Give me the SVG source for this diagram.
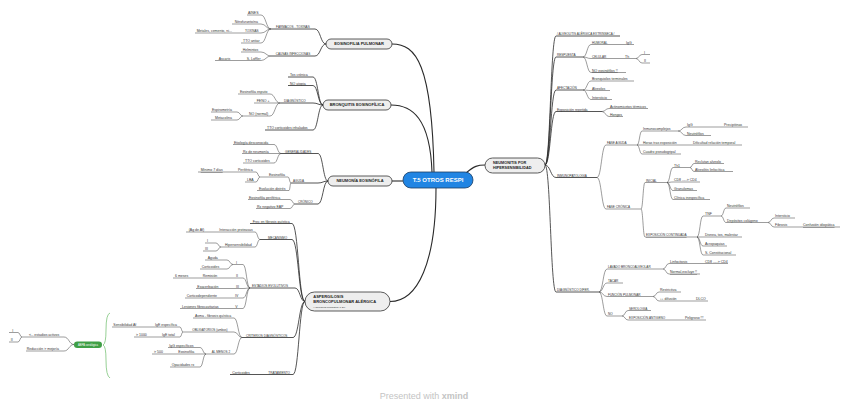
<svg xmlns="http://www.w3.org/2000/svg" width="848" height="411" viewBox="0 0 848 411">
<style>
.l{fill:none;stroke:#3a3a3a;stroke-width:.5}
.l1{fill:none;stroke:#2a2a2a;stroke-width:.8}
.l0{fill:none;stroke:#2a2a2a;stroke-width:1.1}
text{font-family:"Liberation Sans",Arial,sans-serif;fill:#333}
.t{font-size:3.5px}
.c{font-size:3.1px}
.u{text-decoration:underline}
.m{font-size:4px;font-weight:bold;fill:#222}
.box{fill:#eeeeee;stroke:#333;stroke-width:.8}
</style>
<rect width="848" height="411" fill="#ffffff"/>
<g id="connectors">
<!-- central -->
<path class="l0" d="M392 44C416 44 432 64 434 172"/>
<path class="l0" d="M391 105C412 105 430 118 432 172"/>
<path class="l0" d="M392 181H403"/>
<path class="l0" d="M390 301.5C418 301.5 436 262 436 188"/>
<path class="l0" d="M466 173C474 166 478 165 485 165"/>
<!-- neumonitis -->
<path class="l1" d="M545 165C550.5 165 550.5 36 556 36H620"/>
<path class="l1" d="M545 165C550.5 165 550.5 57 556 57H583"/>
<path class="l1" d="M545 165C550.5 165 550.5 90 556 90H583"/>
<path class="l1" d="M545 165C550.5 165 550.5 111.5 556 111.5H602"/>
<path class="l1" d="M545 165C550.5 165 550.5 177.5 556 177.5H597"/>
<path class="l1" d="M545 165C550.5 165 550.5 292 556 292H599"/>
<path class="l" d="M583 57C587 57 587 44.5 591 44.5H634"/>
<path class="l" d="M583 57C587 57 587 58.5 591 58.5H636"/>
<path class="l" d="M583 57C587 57 587 72.5 591 72.5H626"/>
<path class="l" d="M636 58.5C639 58.5 639 54.5 642 54.5H650"/>
<path class="l" d="M636 58.5C639 58.5 639 63 642 63H650"/>
<path class="l" d="M583 90C587 90 587 81 591 81H634"/>
<path class="l" d="M583 90C587 90 587 90.5 591 90.5H610"/>
<path class="l" d="M583 90C587 90 587 99.5 591 99.5H612"/>
<path class="l" d="M602 111.5C605.5 111.5 605.5 108.5 609 108.5H648"/>
<path class="l" d="M602 111.5C605.5 111.5 605.5 116.5 609 116.5H623"/>
<path class="l" d="M597 177.5C601.5 177.5 601.5 145 606 145H637"/>
<path class="l" d="M597 177.5C601.5 177.5 601.5 209 606 209H641"/>
<path class="l" d="M637 145C639.5 145 639.5 131 642 131H678"/>
<path class="l" d="M637 145H742"/>
<path class="l" d="M637 145C639.5 145 639.5 154 642 154H681"/>
<path class="l" d="M678 131C682 131 682 127 686 127H748"/>
<path class="l" d="M678 131C682 131 682 135.5 686 135.5H711"/>
<path class="l" d="M641 209C643 209 643 182.5 645 182.5H667"/>
<path class="l" d="M641 209C643 209 643 237 645 237H697"/>
<path class="l" d="M667 182.5C670 182.5 670 167.5 673 167.5H690"/>
<path class="l" d="M667 182.5C670 182.5 670 182 673 182H700"/>
<path class="l" d="M667 182.5C670 182.5 670 190.5 673 190.5H697"/>
<path class="l" d="M667 182.5C670 182.5 670 199.5 673 199.5H710"/>
<path class="l" d="M690 167.5C692 167.5 692 163.5 694 163.5H724"/>
<path class="l" d="M690 167.5C692 167.5 692 171.5 694 171.5H733"/>
<path class="l" d="M697 237C700 237 700 216 703 216H721"/>
<path class="l" d="M697 237H742"/>
<path class="l" d="M697 237C700 237 700 246 703 246H727"/>
<path class="l" d="M697 237C700 237 700 255 703 255H736"/>
<path class="l" d="M721 216C723.5 216 723.5 208 726 208H750"/>
<path class="l" d="M721 216C723.5 216 723.5 222.5 726 222.5H768"/>
<path class="l" d="M768 222.5C771 222.5 771 218 774 218H795"/>
<path class="l" d="M768 222.5C771 222.5 771 227 774 227H840"/>
<path class="l" d="M599 292C603 292 603 269 607 269H663"/>
<path class="l" d="M599 292C603 292 603 283 607 283H623"/>
<path class="l" d="M599 292C603 292 603 296.5 607 296.5H653"/>
<path class="l" d="M599 292C603 292 603 316 607 316H622"/>
<path class="l" d="M663 269C666 269 666 263.5 669 263.5H728"/>
<path class="l" d="M663 269C666 269 666 274 669 274H700"/>
<path class="l" d="M653 296.5C656 296.5 656 292 659 292H681"/>
<path class="l" d="M653 296.5C656 296.5 656 301 659 301H708"/>
<path class="l" d="M622 316C625 316 625 310.5 628 310.5H651"/>
<path class="l" d="M622 316C625 316 625 320 628 320H706"/>
<!-- eosinofilia pulmonar -->
<path class="l1" d="M326 44C320.5 44 320.5 29 315 29H271"/>
<path class="l1" d="M326 44C320.5 44 320.5 56 315 56H271"/>
<path class="l" d="M271 29C266 29 266 15 261 15H247"/>
<path class="l" d="M271 29C266 29 266 24 261 24H232"/>
<path class="l" d="M271 29C266 29 266 33 261 33H195"/>
<path class="l" d="M271 29C266 29 266 43 261 43H241"/>
<path class="l" d="M271 56C266 56 266 52 261 52H241"/>
<path class="l" d="M271 56C266 56 266 60.5 261 60.5H215"/>
<!-- bronquitis -->
<path class="l1" d="M323 105C318 105 318 77 313 77H288"/>
<path class="l1" d="M323 105C318 105 318 85.5 313 85.5H288"/>
<path class="l1" d="M323 105C318 105 318 103 313 103H280"/>
<path class="l1" d="M323 105C318 105 318 130 313 130H265"/>
<path class="l" d="M280 103C275 103 275 94 270 94H238"/>
<path class="l" d="M280 103H254"/>
<path class="l" d="M280 103C275 103 275 116 270 116H243"/>
<path class="l" d="M243 116C240 116 240 112 237 112H211"/>
<path class="l" d="M243 116C240 116 240 120 237 120H211"/>
<!-- neumonia eosinofila -->
<path class="l1" d="M328 181C323 181 323 153.5 318 153.5H281"/>
<path class="l1" d="M328 181C323 181 323 183 318 183H291"/>
<path class="l1" d="M328 181C323 181 323 204 318 204H295"/>
<path class="l" d="M281 153.5C277.5 153.5 277.5 144.5 274 144.5H233"/>
<path class="l" d="M281 153.5H242"/>
<path class="l" d="M281 153.5C277.5 153.5 277.5 163 274 163H243"/>
<path class="l" d="M291 183C289.5 183 289.5 177 288 177H260"/>
<path class="l" d="M291 183C290 183 290 190.5 289 190.5H257"/>
<path class="l" d="M260 177C258 177 258 172 256 172H198"/>
<path class="l" d="M260 177C258 177 258 182 256 182H245"/>
<path class="l" d="M295 204C292.5 204 292.5 199.5 290 199.5H248"/>
<path class="l" d="M295 204C292.5 204 292.5 208.5 290 208.5H256"/>
<!-- aspergilosis -->
<path class="l1" d="M305 301.5C298.5 301.5 298.5 223.5 292 223.5H250"/>
<path class="l1" d="M305 301.5C298.5 301.5 298.5 239.5 292 239.5H260"/>
<path class="l1" d="M305 301.5C300 301.5 300 288 295 288H250"/>
<path class="l1" d="M305 301.5C299 301.5 299 337.5 293 337.5H242"/>
<path class="l1" d="M305 301.5C299 301.5 299 374.5 293 374.5H230"/>
<path class="l" d="M260 239.5C257.5 239.5 257.5 232 255 232H186"/>
<path class="l" d="M260 239.5C257.5 239.5 257.5 247 255 247H221"/>
<path class="l" d="M221 247C218.5 247 218.5 243 216 243H205"/>
<path class="l" d="M221 247C218.5 247 218.5 251 216 251H203"/>
<path class="l" d="M250 288C246.5 288 246.5 264.5 243 264.5H233"/>
<path class="l" d="M250 288C246.5 288 246.5 278 243 278H173"/>
<path class="l" d="M250 288C246.5 288 246.5 288.5 243 288.5H196"/>
<path class="l" d="M250 288C246.5 288 246.5 298 243 298H185"/>
<path class="l" d="M250 288C246.5 288 246.5 308.5 243 308.5H180"/>
<path class="l" d="M233 264.5C230 264.5 230 260 227 260H205"/>
<path class="l" d="M233 264.5C230 264.5 230 269 227 269H200"/>
<path class="l" d="M242 337.5C238 337.5 238 318 234 318H193"/>
<path class="l" d="M242 337.5C238 337.5 238 332 234 332H183"/>
<path class="l" d="M242 337.5C238 337.5 238 354 234 354H206"/>
<path class="l" d="M183 332C181.5 332 181.5 327 180 327H112"/>
<path class="l" d="M183 332C181.5 332 181.5 337 180 337H134"/>
<path class="l" d="M206 354C203 354 203 347.5 200 347.5H168"/>
<path class="l" d="M206 354H152"/>
<path class="l" d="M206 354C203 354 203 367 200 367H170"/>
<!-- summary -->
<path fill="none" stroke="#7cc47a" stroke-width=".8" d="M110 313Q106 314 106 330Q106 344 103 345Q106 346 106 360Q106 376 110 378"/>
<path class="l" d="M74 344.5C69 344.5 69 337 64 337H22"/>
<path class="l" d="M74 344.5C69 344.5 69 351 64 351H26"/>
<path class="l" d="M22 337C20 337 20 332.5 18 332.5H9"/>
<path class="l" d="M22 337C20 337 20 342 18 342H9"/>
</g>

<g id="central"><rect x="403" y="172" width="70" height="16" rx="8" fill="#2185e3" stroke="#1d3d63" stroke-width=".8"/><text x="438" y="182.2" text-anchor="middle" style="font-size:6px;font-weight:bold;fill:#fff">T.5 OTROS RESPI</text></g>
<g id="neumonitis"><rect class="box" x="485" y="158" width="60" height="15" rx="7.5"/><text class="m" x="493" y="164.3" style="font-size:3.8px">NEUMONITIS POR</text><text class="m" x="493" y="169.3" style="font-size:3.8px">HIPERSENSIBILIDAD</text></g>
<g id="eosinofilia-pulmonar"><rect class="box" x="326" y="39" width="66" height="10" rx="5"/><text class="m" x="359" y="45.4" text-anchor="middle">EOSINOFILIA PULMONAR</text></g>
<g id="bronquitis"><rect class="box" x="323" y="100" width="68" height="10" rx="5"/><text class="m" x="357" y="106.4" text-anchor="middle">BRONQUITIS EOSINOFÍLICA</text></g>
<g id="neumonia-eos"><rect class="box" x="328" y="176" width="64" height="10" rx="5"/><text class="m" x="360" y="182.4" text-anchor="middle">NEUMONÍA EOSINÓFILA</text></g>
<g id="aspergilosis"><rect class="box" x="305" y="292" width="85" height="19" rx="9.5"/><text class="m" x="313.3" y="298">ASPERGILOSIS</text><text class="m" x="313.3" y="303.4">BRONCOPULMONAR ALÉRGICA</text><text x="313.3" y="307.6" style="font-size:2.5px">(Aspergillus fumigatus) 1-2%</text></g>
<g id="abpa-serologica"><rect x="74" y="341.5" width="28" height="6.5" rx="3.2" fill="#3f9f46"/><text x="88" y="345.9" text-anchor="middle" style="font-size:2.7px;fill:#fff">ABPA serológica</text></g>

<!-- right side labels -->
<g id="r1"><text class="c" x="557" y="35">/ ALVEOLITIS ALÉRGICA EXTRÍNSECA /</text></g>
<g id="r2"><text class="c" x="557" y="56">RESPUESTA</text></g>
<g id="r2a"><text class="c" x="592" y="43.5">HUMORAL</text></g>
<g id="r2a1"><text class="t" x="626" y="43.5">IgG</text></g>
<g id="r2b"><text class="c" x="592" y="57.5">CELULAR</text></g>
<g id="r2b1"><text class="t" x="625" y="57.5">Th</text></g>
<g id="r2b1a"><text class="t" x="644" y="53.5">I</text></g>
<g id="r2b1b"><text class="t" x="644" y="62">II</text></g>
<g id="r2c"><text class="t u" x="592" y="71.5">NO eosinófilos !!</text></g>
<g id="r3"><text class="c" x="557" y="89">AFECTACIÓN</text></g>
<g id="r3a"><text class="t" x="592" y="80">Bronquiolos terminales</text></g>
<g id="r3b"><text class="t" x="592" y="89.5">Alveolos</text></g>
<g id="r3c"><text class="t" x="592" y="98.5">Intersticio</text></g>
<g id="r4"><text class="t" x="557" y="110.5">Exposición repetida</text></g>
<g id="r4a"><text class="t" x="610" y="107.5">Actinomicetos térmicos</text></g>
<g id="r4b"><text class="t" x="610" y="115.5">Hongos</text></g>
<g id="r5"><text class="c" x="557" y="176.5">INMUNOPATOLOGÍA</text></g>
<g id="r5a"><text class="c" x="607" y="144">FASE AGUDA</text></g>
<g id="r5a1"><text class="t" x="643" y="130">Inmunocomplejos</text></g>
<g id="r5a1a"><text class="t" x="687" y="126">IgG</text></g>
<g id="r5a1a1"><text class="t" x="724" y="126">Precipitinas</text></g>
<g id="r5a1b"><text class="t" x="687" y="134.5">Neutrófilos</text></g>
<g id="r5a2"><text class="t" x="643" y="144">Horas tras exposición</text></g>
<g id="r5a2a"><text class="t" x="693" y="144">Dificultad relación temporal</text></g>
<g id="r5a3"><text class="t" x="643" y="153">Cuadro pseudogripal</text></g>
<g id="r5b"><text class="c" x="607" y="208">FASE CRÓNICA</text></g>
<g id="r5b1"><text class="c" x="646" y="181.5">INICIAL</text></g>
<g id="r5b1a"><text class="t" x="674" y="166.5">Th1</text></g>
<g id="r5b1a1"><text class="t" x="695" y="162.5">Reclutan alveolo</text></g>
<g id="r5b1a2"><text class="t" x="695" y="170.5">Alveolitis linfocítica</text></g>
<g id="r5b1b"><text class="t" x="674" y="181">CD8 ----&gt; CD4</text></g>
<g id="r5b1c"><text class="t" x="674" y="189.5">Granulomas</text></g>
<g id="r5b1d"><text class="t" x="674" y="198.5">Clínica inespecífica</text></g>
<g id="r5b2"><text class="c u" x="646" y="236">EXPOSICIÓN CONTINUADA</text></g>
<g id="r5b2a"><text class="t" x="705" y="215">TNF</text></g>
<g id="r5b2a1"><text class="t" x="727" y="207">Neutrófilos</text></g>
<g id="r5b2a2"><text class="t" x="727" y="221.5">Depósitos colágeno</text></g>
<g id="r5b2a2a"><text class="t" x="775" y="217">Intersticio</text></g>
<g id="r5b2a2b"><text class="t" x="775" y="226">Fibrosis</text></g>
<g id="r5b2a2b1"><text class="t u" x="803" y="226">Confusión idiopática</text></g>
<g id="r5b2b"><text class="t" x="705" y="236">Disnea, tos, malestar</text></g>
<g id="r5b2c"><text class="t" x="705" y="245">Acropaquias</text></g>
<g id="r5b2d"><text class="t" x="705" y="254">S. Constitucional</text></g>
<g id="r6"><text class="c" x="557" y="291">DIAGNÓSTICO DIFER.</text></g>
<g id="r6a"><text class="c" x="608" y="268">LAVADO BRONCOALVEOLAR</text></g>
<g id="r6a1"><text class="t" x="670" y="262.5">Linfocitosis</text></g>
<g id="r6a1a"><text class="t" x="705" y="262.5">CD8 ----&gt; CD4</text></g>
<g id="r6a2"><text class="t u" x="670" y="273">Normal,excluye !!</text></g>
<g id="r6b"><text class="c" x="608" y="282">TACAR</text></g>
<g id="r6c"><text class="c" x="608" y="295.5">FUNCIÓN PULMONAR</text></g>
<g id="r6c1"><text class="t" x="660" y="291">Restrictiva</text></g>
<g id="r6c2"><text class="t" x="660" y="300">↓↓ difusión</text></g>
<g id="r6c2a"><text class="t" x="696" y="300">DLCO</text></g>
<g id="r6d"><text class="c" x="608" y="315">NO</text></g>
<g id="r6d1"><text class="c" x="629" y="309.5">SEROLOGÍA</text></g>
<g id="r6d2"><text class="c" x="629" y="319">EXPOSICIÓN ANTÍGENO</text></g>
<g id="r6d2a"><text class="t" x="685" y="319">Peligroso !!!</text></g>

<!-- eosinofilia pulmonar labels -->
<g id="e1"><text class="c" x="276" y="28">FÁRMACOS - TOXINAS</text></g>
<g id="e1a"><text class="t" x="248" y="14">AINES</text></g>
<g id="e1b"><text class="t" x="234.7" y="23">Nitrofurantoína</text></g>
<g id="e1c"><text class="c" x="245" y="32">TOXINAS</text></g>
<g id="e1c1"><text class="t" x="196.7" y="32">Metales, cemento, ni...</text></g>
<g id="e1d"><text class="t" x="243" y="42">TTO antiar</text></g>
<g id="e2"><text class="c" x="275.7" y="55">CAUSAS INFECCIOSAS</text></g>
<g id="e2a"><text class="t" x="242.7" y="51">Helmintos</text></g>
<g id="e2b"><text class="t" x="246.7" y="59.5">S. Loffler</text></g>
<g id="e2b1"><text class="t" x="218.7" y="59.5">Ascaris</text></g>

<!-- bronquitis labels -->
<g id="b1"><text class="t" x="290" y="76">Tos crónica</text></g>
<g id="b2"><text class="t" x="290" y="84.5">NO atopia</text></g>
<g id="b3"><text class="c" x="284" y="102">DIAGNÓSTICO</text></g>
<g id="b3a"><text class="t" x="240" y="93">Eosinofilia esputo</text></g>
<g id="b3b"><text class="t" x="256.7" y="102">FENO +</text></g>
<g id="b3c"><text class="t" x="249" y="115">NO (normal)</text></g>
<g id="b3c1"><text class="t" x="212" y="111">Espirometría</text></g>
<g id="b3c2"><text class="t" x="215" y="119">Metacolina</text></g>
<g id="b4"><text class="t" x="267" y="129">TTO corticoides inhalados</text></g>

<!-- neumonia eosinofila labels -->
<g id="n1"><text class="c" x="285" y="152.5">GENERALIDADES</text></g>
<g id="n1a"><text class="t" x="234" y="143.5">Etiología desconocida</text></g>
<g id="n1b"><text class="t" x="243" y="152.5">Rx de neumonía</text></g>
<g id="n1c"><text class="t" x="245" y="162">TTO corticoides</text></g>
<g id="n2"><text class="c" x="293" y="182">AGUDA</text></g>
<g id="n2a"><text class="t" x="269" y="176">Eosinofilia</text></g>
<g id="n2a1"><text class="t" x="238" y="171">Periférica</text></g>
<g id="n2a1a"><text class="t u" x="200.7" y="171">Mínimo 7 días</text></g>
<g id="n2a2"><text class="t" x="247" y="181">LBA</text></g>
<g id="n2b"><text class="t" x="259" y="189.5">Evolución distrés</text></g>
<g id="n3"><text class="c" x="298" y="203">CRÓNICO</text></g>
<g id="n3a"><text class="t" x="249" y="198.5">Eosinofilia periférica</text></g>
<g id="n3b"><text class="t" x="257" y="207.5">Rx negativo EAP</text></g>

<!-- aspergilosis labels -->
<g id="a1"><text class="t" x="252.7" y="222.5">Frec en fibrosis quística</text></g>
<g id="a2"><text class="c" x="268" y="238.5">MECANISMO</text></g>
<g id="a2a"><text class="t" x="219.3" y="231">Interacción proteasas</text></g>
<g id="a2a1"><text class="t" x="188.7" y="231">(Ag de Af)</text></g>
<g id="a2b"><text class="t" x="225" y="246">Hipersensibilidad</text></g>
<g id="a2b1"><text class="t" x="207" y="242">I</text></g>
<g id="a2b2"><text class="t" x="205" y="250">III</text></g>
<g id="a3"><text class="c" x="252" y="287">ESTADIOS EVOLUTIVOS</text></g>
<g id="a3a"><text class="t" x="236" y="263.5">I</text></g>
<g id="a3a1"><text class="t" x="207.7" y="259">Aguda</text></g>
<g id="a3a2"><text class="t" x="201.7" y="268">Corticoides</text></g>
<g id="a3b"><text class="t" x="236" y="277">II</text></g>
<g id="a3b1"><text class="t" x="202.7" y="277">Remisión</text></g>
<g id="a3b1a"><text class="t" x="175" y="277">6 meses</text></g>
<g id="a3c"><text class="t" x="236" y="287.5">III</text></g>
<g id="a3c1"><text class="t" x="197.3" y="287.5">Exacerbación</text></g>
<g id="a3d"><text class="t" x="235" y="297">IV</text></g>
<g id="a3d1"><text class="t" x="186.7" y="297">Corticodependiente</text></g>
<g id="a3e"><text class="t" x="235.3" y="307.5">V</text></g>
<g id="a3e1"><text class="t" x="182" y="307.5">Lesiones fibrocavitarias</text></g>
<g id="a4"><text class="c" x="246" y="336.5">CRITERIOS DIAGNÓSTICOS</text></g>
<g id="a4a"><text class="t" x="195" y="317">Asma - fibrosis quística</text></g>
<g id="a4b"><text class="c" x="192.3" y="331">OBLIGATORIOS (ambos)</text></g>
<g id="a4b1"><text class="t" x="155" y="326">IgE específica</text></g>
<g id="a4b1a"><text class="t" x="113.3" y="326">Sensibilidad Af</text></g>
<g id="a4b2"><text class="t" x="162" y="336">IgE total</text></g>
<g id="a4b2a"><text class="t" x="136" y="336">&gt; 1000</text></g>
<g id="a4c"><text class="c" x="211.7" y="353">AL MENOS 2</text></g>
<g id="a4c1"><text class="t" x="169.3" y="346.5">IgG específicos</text></g>
<g id="a4c2"><text class="t" x="178.3" y="353">Eosinofilia</text></g>
<g id="a4c2a"><text class="t" x="154" y="353">&gt; 500</text></g>
<g id="a4c3"><text class="t" x="171.7" y="366">Opacidades rx</text></g>
<g id="a5"><text class="c" x="268.3" y="373.5">TRATAMIENTO</text></g>
<g id="a5a"><text class="t" x="232.3" y="373.5">Corticoides</text></g>

<!-- green summary labels -->
<g id="s1"><text class="t" x="29" y="336">&lt;-- estadios activos</text></g>
<g id="s1a"><text class="t" x="12.3" y="331.5">I</text></g>
<g id="s1b"><text class="t" x="10.7" y="341">II</text></g>
<g id="s2"><text class="t" x="26.7" y="350">Reducción &gt; mejoría</text></g>

<g id="watermark"><text x="424" y="399" text-anchor="middle" style="font-size:9px;fill:#c4c4c4">Presented with <tspan font-weight="bold">xmind</tspan></text></g>
</svg>
